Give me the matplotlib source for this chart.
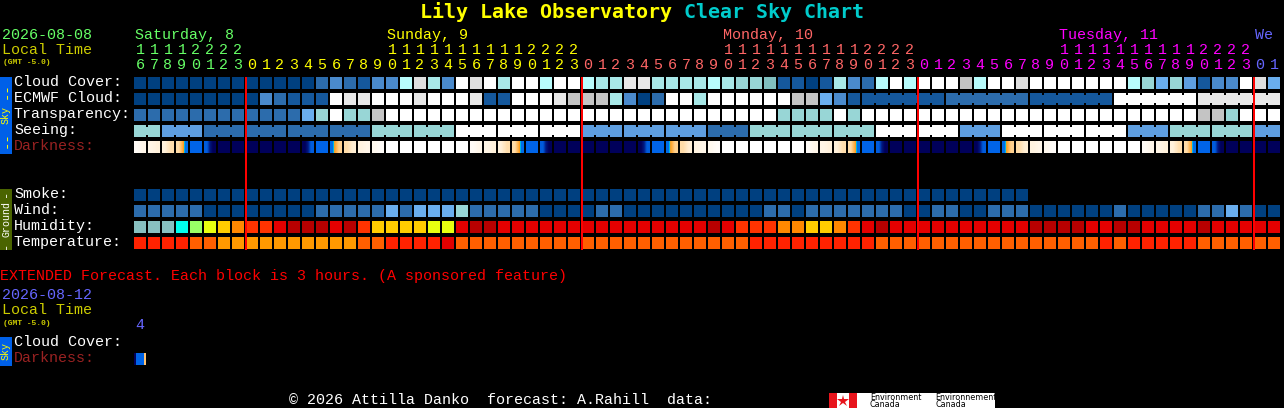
import numpy as np
import matplotlib
matplotlib.use("Agg")
import matplotlib.pyplot as plt
from matplotlib.colors import LinearSegmentedColormap, Normalize

# forecast hours, one block per hour
hours = list(range(16, 24)) + list(range(24)) * 3 + [0, 1]
days = [0] * 8 + [1] * 24 + [2] * 24 + [3] * 24 + [4] * 2
day_names = ["Saturday, 8", "Sunday, 9", "Monday, 10", "Tuesday, 11", "We"]
day_label_cols = [0, 18, 42, 66, 80]

# sky rows, index into sky_colors
cloud_cover = [13, 13, 13, 13, 13, 13, 13, 13, 13, 13, 13, 13, 13, 11, 10, 11, 12, 10, 10, 4,
               2, 5, 10, 0, 2, 0, 5, 0, 0, 4, 0, 0, 4, 5, 5, 1, 1, 5, 5, 5,
               5, 4, 5, 6, 6, 7, 12, 12, 13, 12, 5, 10, 11, 4, 0, 4, 0, 0, 0, 3,
               4, 0, 0, 2, 0, 0, 0, 0, 0, 0, 0, 4, 6, 8, 6, 9, 12, 10, 10, 0,
               2, 8]
ecmwf_cloud = [13, 13, 13, 13, 13, 13, 13, 13, 13, 10, 11, 12, 12, 12, 0, 1, 1, 0, 0, 0,
               1, 0, 0, 0, 1, 12, 12, 0, 0, 0, 1, 3, 3, 3, 5, 10, 13, 11, 0, 0,
               5, 0, 0, 0, 0, 0, 0, 3, 3, 8, 10, 12, 12, 12, 12, 12, 12, 12, 11, 11,
               11, 11, 11, 11, 12, 12, 12, 12, 12, 12, 0, 0, 0, 0, 0, 0, 1, 1, 1, 1,
               1, 1]
transparency = [11, 11, 11, 11, 11, 11, 11, 11, 11, 11, 11, 11, 8, 6, 0, 6, 6, 3, 0, 0,
                0, 0, 0, 0, 0, 0, 0, 0, 0, 0, 0, 0, 0, 0, 0, 0, 0, 0, 0, 0,
                0, 0, 0, 0, 0, 0, 6, 6, 6, 6, 0, 6, 0, 0, 0, 0, 0, 0, 0, 0,
                0, 0, 0, 0, 0, 0, 0, 0, 0, 0, 0, 0, 0, 0, 0, 0, 3, 3, 6, 0,
                0, 0]
seeing = [6, 6, 9, 9, 9, 11, 11, 11, 11, 11, 11, 11, 11, 11, 11, 11, 11, 6, 6, 6,
          6, 6, 6, 0, 0, 0, 0, 0, 0, 0, 0, 0, 9, 9, 9, 9, 9, 9, 9, 9,
          9, 11, 11, 11, 6, 6, 6, 6, 6, 6, 6, 6, 6, 0, 0, 0, 0, 0, 0, 9,
          9, 9, 0, 0, 0, 0, 0, 0, 0, 0, 0, 9, 9, 9, 6, 6, 6, 6, 6, 6,
          9, 9]
smoke = [13] * 64
wind = [11, 11, 11, 11, 11, 13, 13, 13, 13, 13, 13, 13, 13, 11, 11, 11, 11, 11, 8, 11,
        8, 8, 8, 6, 11, 11, 11, 11, 11, 13, 13, 13, 13, 11, 11, 13, 13, 13, 13, 13,
        13, 13, 13, 13, 13, 11, 11, 13, 11, 11, 11, 11, 11, 11, 11, 13, 13, 11, 11, 13,
        13, 11, 11, 11, 13, 13, 13, 13, 13, 13, 11, 13, 13, 13, 13, 13, 11, 11, 8, 11,
        13, 13]
# first block of each joined 3 hour / 6 hour run
seeing_runs = [0, 2, 5, 8, 11, 14, 17, 20, 23, 26, 29, 32, 35, 38, 41, 44, 47, 50, 53, 56, 59, 62, 65, 68, 71, 74, 77, 80, 82]
ecmwf_runs = [52, 58, 64, 70, 76, 82]

# index into humidity_colors
humidity = [0, 0, 0, 1, 2, 3, 4, 5, 6, 6, 7, 8, 8, 8, 7, 8, 6, 4, 4, 4,
            4, 3, 3, 7, 8, 8, 7, 7, 7, 7, 7, 7, 7, 7, 7, 7, 7, 7, 7, 7,
            7, 8, 7, 6, 6, 6, 5, 5, 4, 4, 5, 6, 7, 8, 7, 7, 7, 7, 7, 7,
            7, 7, 7, 7, 8, 8, 8, 8, 7, 7, 8, 8, 7, 7, 7, 7, 8, 7, 7, 7,
            7, 7]
# index into temp_colors
temperature = [1, 1, 1, 1, 2, 2, 3, 3, 3, 3, 3, 3, 3, 3, 3, 3, 2, 2, 1, 1,
               1, 1, 0, 2, 2, 2, 2, 2, 2, 2, 2, 2, 2, 2, 2, 2, 2, 2, 2, 2,
               2, 2, 2, 2, 1, 1, 1, 1, 1, 1, 1, 1, 1, 2, 2, 2, 2, 2, 2, 2,
               2, 2, 2, 2, 2, 2, 2, 2, 2, 1, 2, 1, 1, 1, 1, 1, 2, 2, 2, 2,
               2, 2]

# darkness at left and right side of each block, 0 is daylight 6 is full night
dark_left = [0.3, 0.8, 1.1, 2.0, 4, 4.2, 6, 6, 6, 6, 6, 6, 6, 4, 3.3, 2, 1, 0.5, 0, 0,
             0, 0, 0, 0, 0.3, 0.8, 1.1, 2.0, 4, 4.2, 6, 6, 6, 6, 6, 6, 6, 4, 3.3, 2,
             1, 0.5, 0, 0, 0, 0, 0, 0, 0.3, 0.8, 1.1, 2.0, 4, 4.2, 6, 6, 6, 6, 6, 6,
             6, 4, 3.3, 2, 1, 0.5, 0, 0, 0, 0, 0, 0, 0.3, 0.8, 1.1, 2.0, 4, 4.2, 6, 6,
             6, 6]
dark_right = [0.7, 1.1, 1.9, 3.3, 4, 6, 6, 6, 6, 6, 6, 6, 4.2, 4, 2.2, 1.2, 0.7, 0.2, 0, 0,
              0, 0, 0, 0, 0.7, 1.1, 1.9, 3.3, 4, 6, 6, 6, 6, 6, 6, 6, 4.2, 4, 2.2, 1.2,
              0.7, 0.2, 0, 0, 0, 0, 0, 0, 0.7, 1.1, 1.9, 3.3, 4, 6, 6, 6, 6, 6, 6, 6,
              4.2, 4, 2.2, 1.2, 0.7, 0.2, 0, 0, 0, 0, 0, 0, 0.7, 1.1, 1.9, 3.3, 4, 6, 6, 6,
              6, 6]
ext_darkness = [6, 4, 4, 4, 2.4]

sky_colors = ["#ffffff", "#e8e8e8", "#dedede", "#c4c4c4", "#b8fcfc", "#a8e8e8", "#98d6d6",
              "#80c0c0", "#6aaeee", "#5e9ee0", "#4a8acc", "#2c6cac", "#15589c", "#004080"]
humidity_colors = ["#88c0c0", "#00ffee", "#99ff66", "#e8ff10", "#ffcc00", "#ff8800",
                   "#ff3300", "#e40000", "#b80000"]
temp_colors = ["#e00000", "#ff2200", "#ff5f00", "#ff9900"]
day_colors = ["#66ff66", "#ffff00", "#ff6666", "#ff00ff", "#6666ff"]

dark_cmap = LinearSegmentedColormap.from_list("dark", [
    (0, "#ffffff"), (1 / 6, "#fff3e0"), (2 / 6, "#ffdca8"), (3 / 6, "#ff9f20"),
    (3.15 / 6, "#00e0e0"), (3.3 / 6, "#0068e8"), (4.1 / 6, "#0064e8"),
    (4.5 / 6, "#0048c0"), (5.1 / 6, "#001880"), (1, "#00005a")])
dark_norm = Normalize(0, 6)

X0 = 134
PITCH = 14
CELL = 12
MONO = "Liberation Mono"
WHITE = "#ffffff"
BROWN = "#992222"
OLIVE_TXT = "#cccc00"


def px(size):
    return size * 0.72


fig = plt.figure(figsize=(12.84, 4.08), dpi=100, facecolor="black")
ax = fig.add_axes([0, 0, 1, 1])
ax.set_facecolor("black")
ax.axis("off")


def put(x, y, s, color=WHITE, size=15, **kw):
    kw.setdefault("family", MONO)
    ax.text(x, y, s, color=color, fontsize=px(size), va=kw.pop("va", "baseline"), **kw)


def blocks(values, top, palette):
    x = X0 + PITCH * np.arange(len(values))
    ax.bar(x, CELL, width=CELL, bottom=top, align="edge",
           color=[palette[v] for v in values], linewidth=0, zorder=2)


def bridges(values, runs, top):
    # blocks of one forecast run are joined by a short neck
    for a, b in zip(runs[:-1], runs[1:]):
        for i in range(a, b - 1):
            ax.bar(X0 + PITCH * i + CELL, 8, width=PITCH - CELL, bottom=top + 2, align="edge",
                   color=sky_colors[values[i]], linewidth=0, zorder=2)


# title
put(420, 18, "Lily Lake Observatory", "#ffff00", 20, weight="bold", family="DejaVu Sans Mono")
put(684, 18, "Clear Sky Chart", "#00cccc", 20, weight="bold", family="DejaVu Sans Mono")

# left header
put(2, 39, "2026-08-08", "#66ff66")
put(2, 54, "Local Time", OLIVE_TXT)
put(3, 64, "(GMT -5.0)", OLIVE_TXT, 8, weight="bold")

# hours and day names
for name, col in zip(day_names, day_label_cols):
    put(X0 + PITCH * col + 1, 39, name, day_colors[days[col]])
for i, h in enumerate(hours):
    c = day_colors[days[i]]
    xc = X0 + PITCH * i + 6
    if h >= 10:
        put(xc, 54, str(h // 10), c, ha="center")
    put(xc, 69, str(h % 10), c, ha="center")

# rows
blocks(cloud_cover, 77, sky_colors)
blocks(ecmwf_cloud, 93, sky_colors)
blocks(transparency, 109, sky_colors)
blocks(seeing, 125, sky_colors)
bridges(ecmwf_cloud, ecmwf_runs, 93)
bridges(seeing, seeing_runs, 125)
blocks(smoke, 189, sky_colors)
blocks(wind, 205, sky_colors)
blocks(humidity, 221, humidity_colors)
blocks(temperature, 237, temp_colors)

for i, (l, r) in enumerate(zip(dark_left, dark_right)):
    x = X0 + PITCH * i
    ax.imshow([[l, r]], extent=(x, x + CELL, 153, 141), cmap=dark_cmap, norm=dark_norm,
              aspect="auto", interpolation="bilinear", zorder=2)
ax.imshow([ext_darkness], extent=(X0, X0 + CELL, 365, 353), cmap=dark_cmap, norm=dark_norm,
          aspect="auto", interpolation="nearest", zorder=2)

# red lines at midnight
for i, h in enumerate(hours):
    if h == 0 and i > 0:
        ax.bar(X0 + PITCH * i - 1, 173, width=2, bottom=77, align="edge",
               color="#ff0000", linewidth=0, zorder=3)

# row labels
labels = [("Cloud Cover:", 86, WHITE), ("ECMWF Cloud:", 102, WHITE), ("Transparency:", 118, WHITE),
          ("Seeing:", 134, WHITE), ("Darkness:", 150, BROWN), ("Smoke:", 198, WHITE),
          ("Wind:", 214, WHITE), ("Humidity:", 230, WHITE), ("Temperature:", 246, WHITE)]
for s, y, c in labels:
    put(14, y, s, c)

# side bars
ax.bar(0, 77, width=12, bottom=77, align="edge", color="#0060e8", linewidth=0)
ax.bar(0, 61, width=12, bottom=189, align="edge", color="#4a6400", linewidth=0)
ax.bar(0, 29, width=12, bottom=337, align="edge", color="#0060e8", linewidth=0)
side = dict(rotation=90, ha="center", va="center")
put(6, 115, "Sky", "#ffff00", 10, **side)
put(6, 91, "--", "#ffff00", 14, **side)
put(6, 140, "--", "#ffff00", 14, **side)
put(6, 219, "Ground", WHITE, 10, **side)
put(6, 193, "-", WHITE, 12, **side)
put(6, 245, "-", WHITE, 12, **side)
put(6, 351, "Sky", "#ffff00", 10, **side)

# extended forecast
put(0, 280, "EXTENDED Forecast. Each block is 3 hours. (A sponsored feature)", "#ff0000")
put(2, 299, "2026-08-12", "#6666ff")
put(2, 314, "Local Time", OLIVE_TXT)
put(3, 325, "(GMT -5.0)", OLIVE_TXT, 8, weight="bold")
put(140, 329, "4", "#6666ff", ha="center")
put(14, 346, "Cloud Cover:")
put(14, 362, "Darkness:", BROWN)

# footer
put(289, 404, "\u00a9 2026 Attilla Danko  forecast: A.Rahill  data:")
ax.bar(829, 15, width=166, bottom=393, align="edge", color="white", linewidth=0)
ax.bar(829, 15, width=8, bottom=393, align="edge", color="#e8141c", linewidth=0)
ax.bar(849, 15, width=8, bottom=393, align="edge", color="#e8141c", linewidth=0)
ax.plot([843], [400.5], marker="*", ms=9, color="#e8141c", mew=0)
for x, s in [(870, "Environment"), (935, "Environnement")]:
    put(x, 400, s, "black", 8, family="DejaVu Sans")
    put(x, 407, "Canada", "black", 8, family="DejaVu Sans")

ax.set_xlim(0, 1284)
ax.set_ylim(408, 0)
fig.savefig("out.png", dpi=100, facecolor="black")
